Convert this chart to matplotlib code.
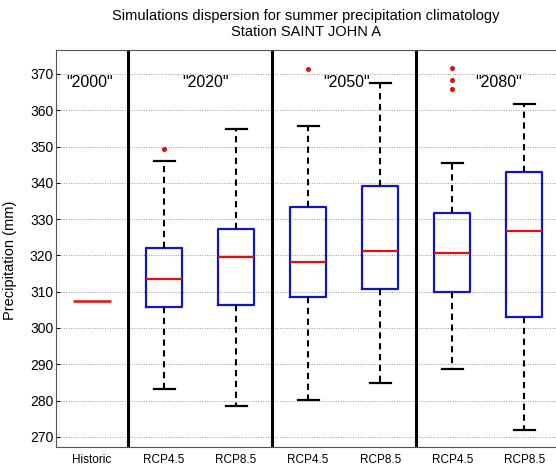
import matplotlib
matplotlib.use("Agg")
import matplotlib.pyplot as plt

plt.rcParams["font.family"] = ["Liberation Sans", "DejaVu Sans"]

# Summer precipitation climatology (mm) for each period / scenario
categories = ["Historic", "RCP4.5", "RCP8.5", "RCP4.5", "RCP8.5", "RCP4.5", "RCP8.5"]
historic_value = 307.5

# Box statistics for the six simulation groups (2020, 2050, 2080 x RCP4.5/RCP8.5)
whisker_low = [283.2, 278.5, 280.2, 284.7, 288.8, 272.0]
q1 = [305.7, 306.3, 308.6, 310.8, 310.0, 302.9]
median = [313.6, 319.5, 318.3, 321.2, 320.7, 326.6]
q3 = [322.0, 327.3, 333.2, 339.1, 331.6, 342.9]
whisker_high = [346.0, 354.8, 355.6, 367.6, 345.4, 361.8]
outliers = [[349.3], [], [371.3], [], [371.6, 368.4, 365.9], []]

period_labels = ['"2000"', '"2020"', '"2050"', '"2080"']
period_label_x = [0.97, 2.57, 4.53, 6.64]
period_label_y = 367.6
separators = [1.5, 3.5, 5.5]

fig = plt.figure(figsize=(5.56, 4.66), dpi=100)
ax = fig.add_axes([56 / 556, 19 / 466, 500 / 556, 397 / 466])

stats = []
for i in range(6):
    stats.append(dict(med=median[i], q1=q1[i], q3=q3[i],
                      whislo=whisker_low[i], whishi=whisker_high[i],
                      fliers=outliers[i]))

positions = list(range(2, 8))
ax.bxp(stats, positions=positions, widths=0.5, showfliers=True,
       capwidths=0.29,
       boxprops=dict(color="#1414c0", linewidth=1.6),
       medianprops=dict(color="#e01010", linewidth=1.6),
       whiskerprops=dict(color="black", linewidth=1.5, linestyle=(0, (3, 2.2))),
       capprops=dict(color="black", linewidth=1.6),
       flierprops=dict(marker="o", markersize=2.6, markerfacecolor="#e01010",
                       markeredgecolor="#e01010", linestyle="none"))

# Historic reference value
ax.hlines(historic_value, 1 - 0.27, 1 + 0.27, color="#e01010", linewidth=1.8)

for s in separators:
    ax.axvline(s, color="black", linewidth=2.2)

for lab, x in zip(period_labels, period_label_x):
    ax.text(x, period_label_y, lab, ha="center", va="center", fontsize=11.5)

ax.set_xlim(0.5, 7.44)
ax.set_ylim(267.2, 376.6)
ax.set_yticks(range(270, 371, 10))
ax.set_xticks(range(1, 8))
ax.set_xticklabels(categories, fontsize=8.5)
ax.tick_params(axis="y", labelsize=10, direction="in", length=3, pad=2)
ax.tick_params(axis="x", direction="in", length=0, pad=5)
ax.yaxis.grid(True, linestyle=(0, (1, 1.5)), color="#999999", linewidth=0.7)
ax.set_axisbelow(True)
for side in ["top", "left", "bottom"]:
    ax.spines[side].set_color("#555555")
    ax.spines[side].set_linewidth(0.8)
ax.spines["right"].set_visible(False)

ax.set_ylabel("Precipitation (mm)", fontsize=10.5)
ax.yaxis.set_label_coords(-0.078, 0.47)
ax.set_title("Simulations dispersion for summer precipitation climatology\nStation SAINT JOHN A",
             fontsize=10.5, pad=10, linespacing=1.15)

fig.savefig("out.png", dpi=100)
